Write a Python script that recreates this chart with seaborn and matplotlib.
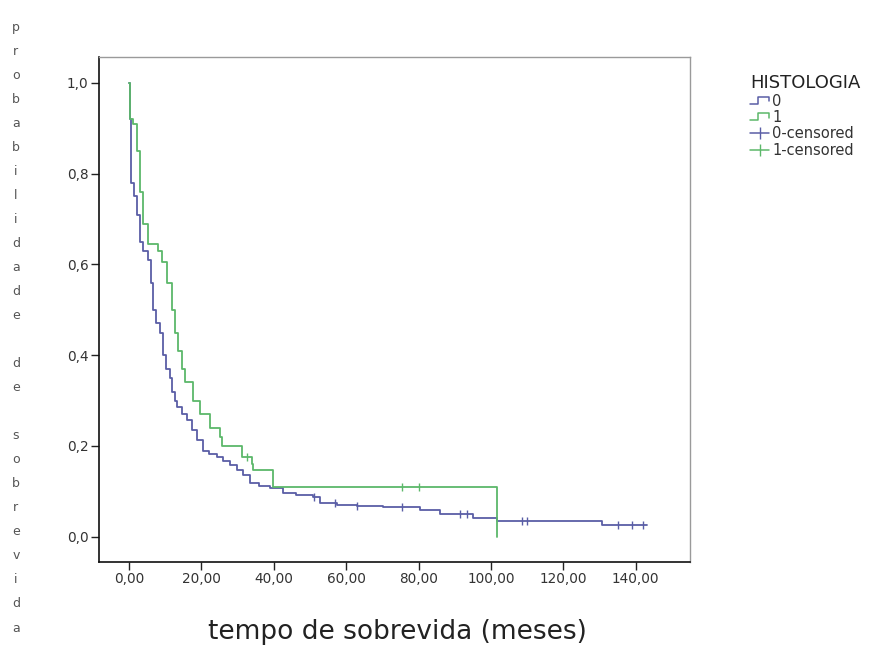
import numpy as np
import pandas as pd
import matplotlib
matplotlib.use("Agg")
import matplotlib.pyplot as plt
import seaborn as sns
from matplotlib.lines import Line2D
from matplotlib.legend_handler import HandlerBase
from matplotlib.ticker import FuncFormatter

# curva de Kaplan-Meier, HISTOLOGIA = 0
tempo_0 = [0.0, 0.3, 0.6, 1.5, 2.2, 3.0, 3.9, 5.2, 6.0, 6.6, 7.5, 8.6, 9.4,
           10.3, 11.3, 12.0, 12.7, 13.3, 14.5, 16.0, 17.5, 18.8, 20.4, 22.0,
           24.3, 26.0, 28.0, 29.8, 31.5, 33.4, 36.0, 39.0, 42.5, 46.0, 50.8,
           52.8, 57.5, 63.0, 70.2, 80.4, 86.0, 95.0, 101.7, 130.7, 143.0]
prob_0 = [1.0, 0.92, 0.78, 0.75, 0.71, 0.65, 0.63, 0.61, 0.56, 0.50, 0.47,
          0.45, 0.40, 0.37, 0.35, 0.32, 0.30, 0.285, 0.27, 0.257, 0.235,
          0.213, 0.19, 0.183, 0.176, 0.168, 0.158, 0.147, 0.135, 0.118,
          0.112, 0.107, 0.096, 0.091, 0.087, 0.074, 0.070, 0.067, 0.065,
          0.059, 0.050, 0.041, 0.035, 0.026, 0.026]
censura_0 = [51.0, 57.0, 63.0, 75.5, 91.5, 93.5, 108.5, 110.0, 135.0,
             139.0, 142.0]

# curva de Kaplan-Meier, HISTOLOGIA = 1
tempo_1 = [0.0, 0.3, 1.1, 2.2, 3.0, 3.9, 5.2, 8.0, 9.0, 10.5, 12.0, 12.6,
           13.5, 14.5, 15.5, 17.7, 19.6, 22.4, 25.1, 25.7, 31.2, 34.0, 34.3,
           39.8, 101.7]
prob_1 = [1.0, 0.92, 0.91, 0.85, 0.76, 0.69, 0.645, 0.63, 0.605, 0.56,
          0.50, 0.45, 0.41, 0.37, 0.34, 0.30, 0.27, 0.24, 0.22, 0.20,
          0.176, 0.16, 0.147, 0.11, 0.0]
censura_1 = [32.6, 75.4, 80.1]

azul = "#5a5ea6"
verde = "#5cb86a"


def prob_em(tempos, probs, t):
    i = np.searchsorted(tempos, t, side="right") - 1
    return probs[i]


curvas = pd.concat([
    pd.DataFrame({"tempo": tempo_0, "prob": prob_0, "HISTOLOGIA": "0"}),
    pd.DataFrame({"tempo": tempo_1, "prob": prob_1, "HISTOLOGIA": "1"}),
])

sns.set_theme(style="white")
plt.rcParams["font.family"] = ["DejaVu Sans"]

fig = plt.figure(figsize=(8.8, 6.5), dpi=100)
ax = fig.add_axes([0.1125, 0.1358, 0.6716, 0.7765])

sns.lineplot(
    data=curvas,
    x="tempo",
    y="prob",
    hue="HISTOLOGIA",
    palette={"0": azul, "1": verde},
    estimator=None,
    sort=False,
    drawstyle="steps-post",
    linewidth=1.3,
    legend=False,
    ax=ax
)

sns.scatterplot(
    x=censura_0,
    y=[prob_em(tempo_0, prob_0, t) for t in censura_0],
    marker="|",
    s=40,
    color=azul,
    linewidth=1.0,
    ax=ax
)

sns.scatterplot(
    x=censura_1,
    y=[prob_em(tempo_1, prob_1, t) for t in censura_1],
    marker="|",
    s=40,
    color=verde,
    linewidth=1.0,
    ax=ax
)

ax.set_xlim(-8.3, 155)
ax.set_ylim(-0.055, 1.057)
ax.set_xticks(np.arange(0, 141, 20))
ax.set_yticks(np.arange(0, 1.01, 0.2))
ax.xaxis.set_major_formatter(
    FuncFormatter(lambda v, p: f"{v:.2f}".replace(".", ","))
)
ax.yaxis.set_major_formatter(
    FuncFormatter(lambda v, p: f"{v:.1f}".replace(".", ","))
)
ax.tick_params(axis="both", which="major", direction="out", length=5.5,
               width=1.0, color="#222222", labelsize=9.8,
               labelcolor="#333333", pad=2, bottom=True, left=True)
ax.set_xlabel("")
ax.set_ylabel("")

for lado in ["left", "bottom"]:
    ax.spines[lado].set_color("#111111")
    ax.spines[lado].set_linewidth(1.2)
for lado in ["top", "right"]:
    ax.spines[lado].set_color("#9a9a9a")
    ax.spines[lado].set_linewidth(1.0)

fig.text(0.452, 0.028, "tempo de sobrevida (meses)", ha="center",
         va="center", fontsize=19, color="#222222")

rotulo_y = "probabilidade de sobrevida"
for i, letra in enumerate(rotulo_y):
    fig.text(0.018, 1 - (27 + i * 24.04) / 650, letra, ha="center",
             va="center", fontsize=9, color="#555555")


class StepHandler(HandlerBase):
    def create_artists(self, legend, orig_handle, xdescent, ydescent,
                       width, height, fontsize, trans):
        xs = np.array([0, 0.4, 0.4, 1.0, 1.0]) * width - xdescent
        ys = np.array([0.2, 0.2, 0.85, 0.85, 0.4]) * height - ydescent
        linha = Line2D(xs, ys, color=orig_handle.get_color(),
                       lw=orig_handle.get_linewidth(), transform=trans)
        return [linha]


h0 = Line2D([], [], color=azul, lw=1.1)
h1 = Line2D([], [], color=verde, lw=1.1)
hc0 = Line2D([], [], color=azul, lw=1.1, marker="|", markersize=8)
hc1 = Line2D([], [], color=verde, lw=1.1, marker="|", markersize=8)

leg = fig.legend(
    [h0, h1, hc0, hc1],
    ["0", "1", "0-censored", "1-censored"],
    handler_map={h0: StepHandler(), h1: StepHandler()},
    title="HISTOLOGIA",
    loc="upper left",
    bbox_to_anchor=(0.852, 0.886),
    frameon=False,
    fontsize=10.5,
    title_fontsize=13,
    handlelength=1.35,
    handletextpad=0.2,
    labelspacing=0.1,
    borderaxespad=0,
    borderpad=0,
    numpoints=1
)
leg._legend_box.align = "left"
for txt in leg.get_texts():
    txt.set_color("#333333")
leg.get_title().set_color("#222222")

fig.savefig("out.png", dpi=100)
